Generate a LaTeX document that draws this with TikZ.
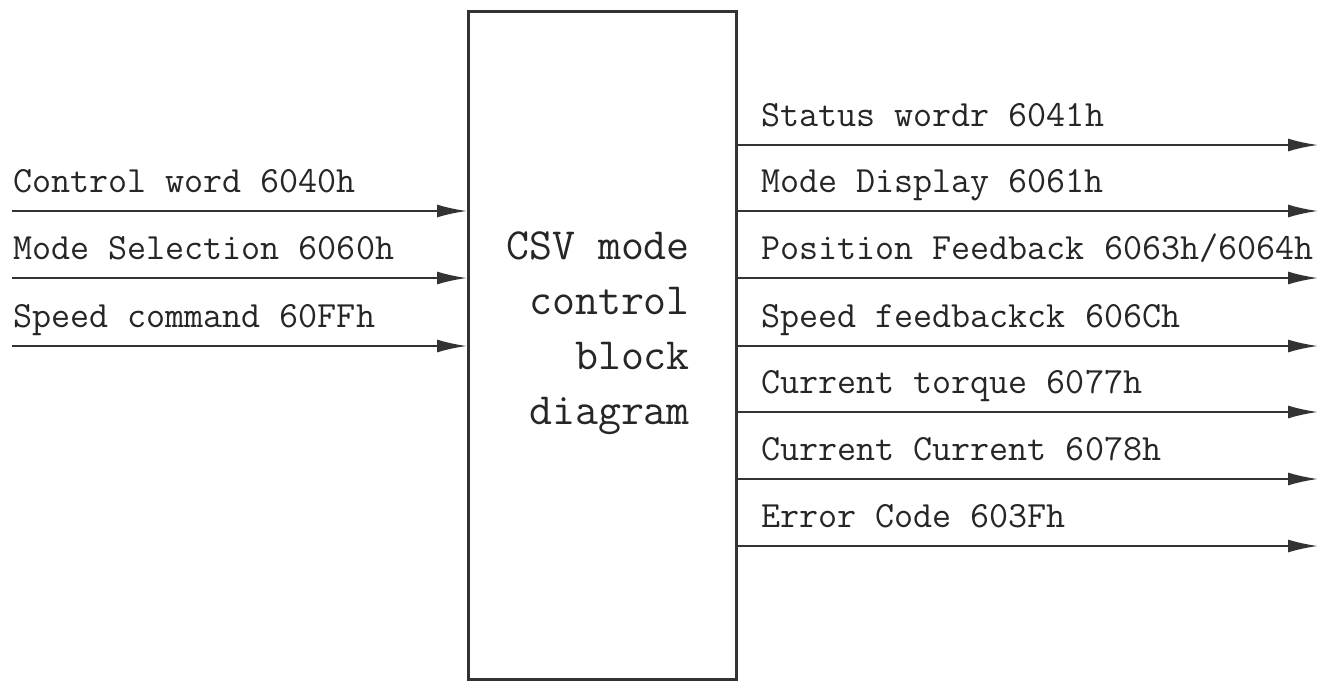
\documentclass[tikz,border=0pt]{standalone}
\usepackage{fontspec}
\usetikzlibrary{arrows.meta}
\definecolor{linegray}{HTML}{333333}

\begin{document}
\begin{tikzpicture}[x=0.5pt, y=-0.5pt, line width=1.1pt,
    sigline/.style={draw=linegray, -{Latex[length=15pt,width=6.5pt]}},
    siglabel/.style={anchor=base west, inner sep=0pt, text=black!85,
      font=\ttfamily\fontsize{18.5}{20}\selectfont}]
  \useasboundingbox (0,0) rectangle (1327,680);
  % main block
  \node[
    draw=linegray,
    line width=1.5pt,
    inner sep=0pt,
    minimum width=134pt,
    minimum height=334pt,
    anchor=north west
  ] (csv) at (467,10) {};
  \node[align=right, anchor=east, inner sep=0pt, text=black!85,
    font=\ttfamily\fontsize{22.3}{27.5}\selectfont] (csvtext) at (691,333)
    {CSV mode\\control\\block\\diagram};
  % inputs
  \foreach \y/\txt [count=\i] in {211/{Control word 6040h},
      278/{Mode Selection 6060h}, 346/{Speed command 60FFh}} {
    \coordinate (in\i) at (12,\y);
    \node[siglabel] (inlabel\i) at (12,\y-19) {\txt};
    \draw[sigline] (in\i) -- (in\i -| csv.west);
  }
  % outputs
  \foreach \y/\txt [count=\i] in {145/{Status wordr 6041h},
      211/{Mode Display 6061h}, 278/{Position Feedback 6063h/6064h},
      346/{Speed feedbackck 606Ch}, 412/{Current torque 6077h},
      479/{Current Current 6078h}, 546/{Error Code 603Fh}} {
    \coordinate (out\i) at (1318,\y);
    \node[siglabel] (outlabel\i) at (760,\y-19) {\txt};
    \draw[sigline] (out\i -| csv.east) -- (out\i);
  }
\end{tikzpicture}
\end{document}
